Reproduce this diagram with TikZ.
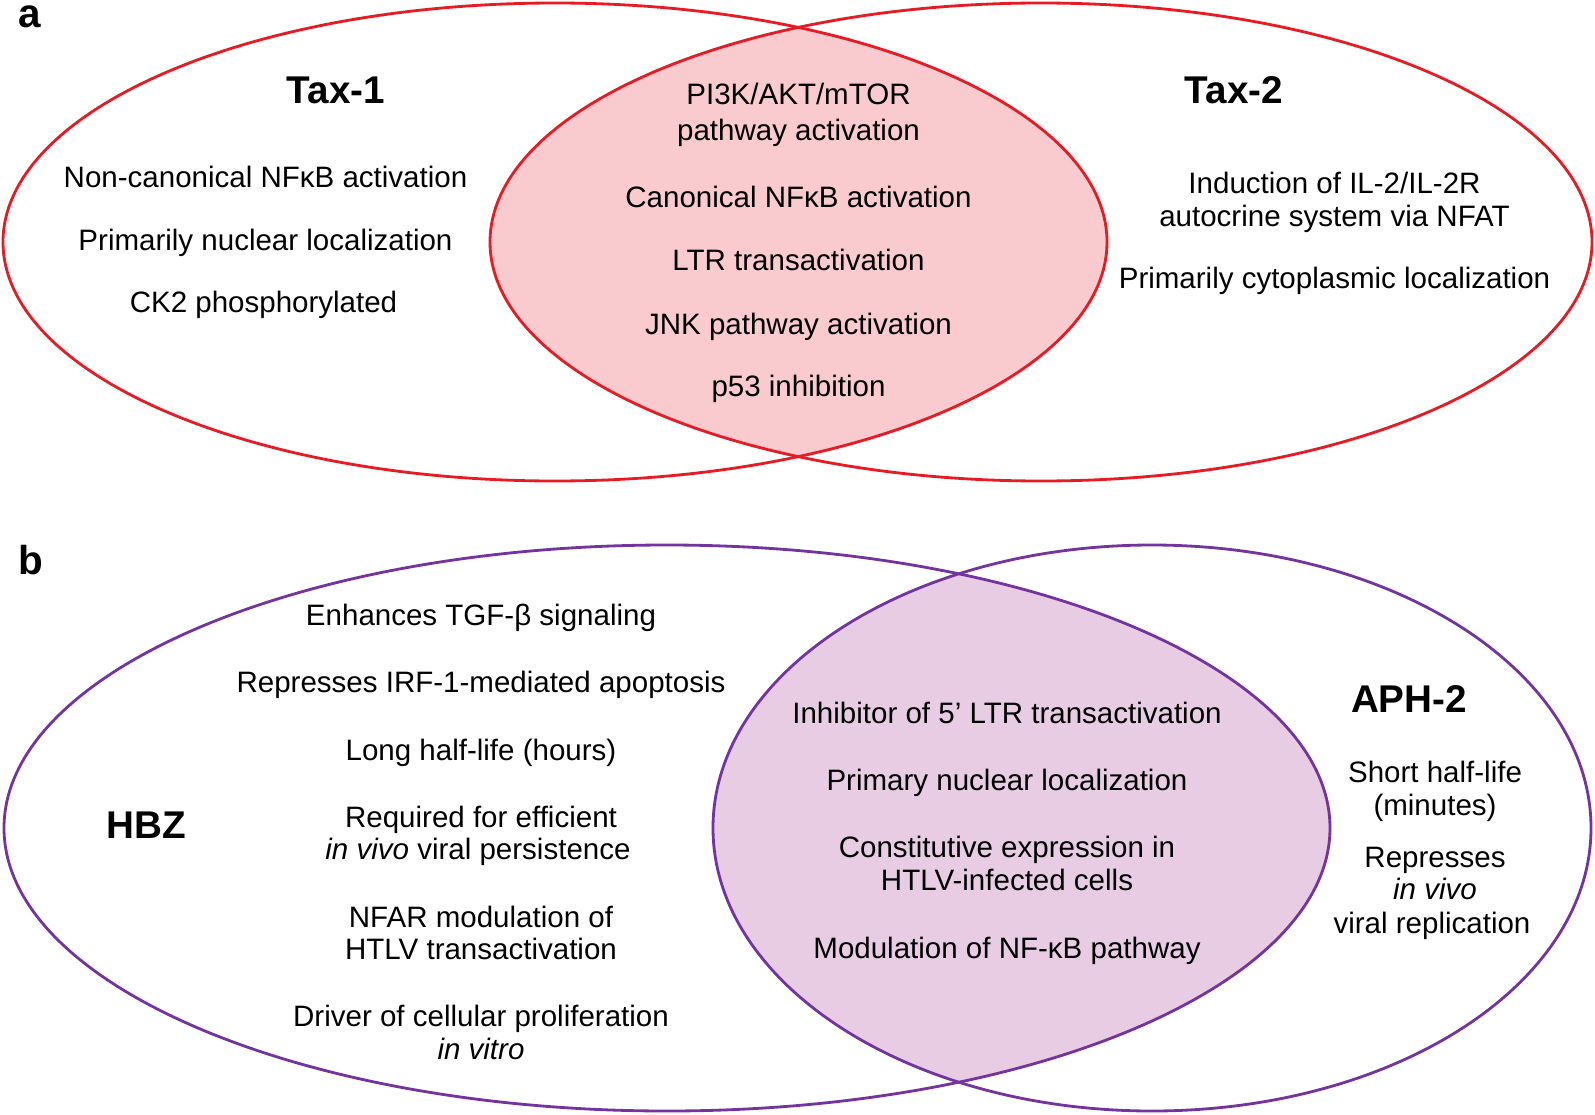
\documentclass[tikz,border=0pt]{standalone}
\usepackage{fontspec}
\setmainfont{Liberation Sans}
\definecolor{taxred}{RGB}{232,26,36}
\definecolor{taxpink}{RGB}{249,203,206}
\definecolor{hbzpurple}{RGB}{116,52,160}
\definecolor{hbzlilac}{RGB}{231,204,227}
\tikzset{
  txt/.style={anchor=base,inner sep=0pt,font=\fontsize{16.8}{18}\selectfont},
  head/.style={anchor=base,inner sep=0pt,font=\fontsize{22}{24}\selectfont\bfseries},
  panel/.style={anchor=base west,inner sep=0pt,text height=0.55em,font=\fontsize{23}{25}\selectfont\bfseries},
  redring/.style={draw=taxred,line width=1.6pt},
  purplering/.style={draw=hbzpurple,line width=1.6pt}
}
\begin{document}
\begin{tikzpicture}[x=0.02cm,y=-0.02cm]
\useasboundingbox (0,0) rectangle (1595,1115);
% panel a
\begin{scope}
\clip (555,242) ellipse [x radius=552,y radius=239];
\fill[taxpink] (1041,242) ellipse [x radius=551,y radius=239];
\end{scope}
\draw[redring] (555,242) ellipse [x radius=552,y radius=239];
\draw[redring] (1041,242) ellipse [x radius=551,y radius=239];
\node[panel] (pa) at (18,28) {a};
\node[head] (taxone) at (336,103.5) {Tax-1};
\node[txt] (aone) at (265.5,187.5) {Non-canonical NFκB activation};
\node[txt] (atwo) at (265.5,250.5) {Primarily nuclear localization};
\node[txt] (athree) at (263.5,312.5) {CK2 phosphorylated};
\node[txt] (cone) at (798.5,105) {PI3K/AKT/mTOR};
\node[txt] (conebis) at (798.5,140.5) {pathway activation};
\node[txt] (ctwo) at (798.5,207.5) {Canonical NFκB activation};
\node[txt] (cthree) at (798.5,270.5) {LTR transactivation};
\node[txt] (cfour) at (798.5,334) {JNK pathway activation};
\node[txt] (cfive) at (798.5,396) {p53 inhibition};
\node[head] (taxtwo) at (1234,103.5) {Tax-2};
\node[txt] (bone) at (1334.5,193.5) {Induction of IL-2/IL-2R};
\node[txt] (bonebis) at (1334.5,226) {autocrine system via NFAT};
\node[txt] (btwo) at (1334.5,288) {Primarily cytoplasmic localization};
% panel b
\begin{scope}
\clip (667,828) ellipse [x radius=663,y radius=283];
\fill[hbzlilac] (1152,828) ellipse [x radius=439,y radius=283];
\end{scope}
\draw[purplering] (667,828) ellipse [x radius=663,y radius=283];
\draw[purplering] (1152,828) ellipse [x radius=439,y radius=283];
\node[panel] (pb) at (18,574) {b};
\node[head] (hbz) at (146.5,838) {HBZ};
\node[txt] (hone) at (481,625.5) {Enhances TGF-β signaling};
\node[txt] (htwo) at (481,692) {Represses IRF-1-mediated apoptosis};
\node[txt] (hthree) at (481,760) {Long half-life (hours)};
\node[txt] (hfour) at (481,827) {Required for efficient};
\node[txt] (hfourbis) at (478,859.5) {\textit{in vivo} viral persistence};
\node[txt] (hfive) at (481,927) {NFAR modulation of};
\node[txt] (hfivebis) at (481,959.5) {HTLV transactivation};
\node[txt] (hsix) at (481,1026.5) {Driver of cellular proliferation};
\node[txt] (hsixbis) at (481,1059) {\textit{in vitro}};
\node[txt] (sone) at (1007,723.5) {Inhibitor of 5’ LTR transactivation};
\node[txt] (stwo) at (1007,790.5) {Primary nuclear localization};
\node[txt] (sthree) at (1007,857.5) {Constitutive expression in};
\node[txt] (sthreebis) at (1007,890.5) {HTLV-infected cells};
\node[txt] (sfour) at (1007,958.5) {Modulation of NF-κB pathway};
\node[head] (aph) at (1409,712) {APH-2};
\node[txt] (pone) at (1435,782.5) {Short half-life};
\node[txt] (ponebis) at (1435,815) {(minutes)};
\node[txt] (ptwo) at (1435,867) {Represses};
\node[txt] (ptwobis) at (1435,899.5) {\textit{in vivo}};
\node[txt] (ptwoter) at (1432,933) {viral replication};
\end{tikzpicture}
\end{document}
